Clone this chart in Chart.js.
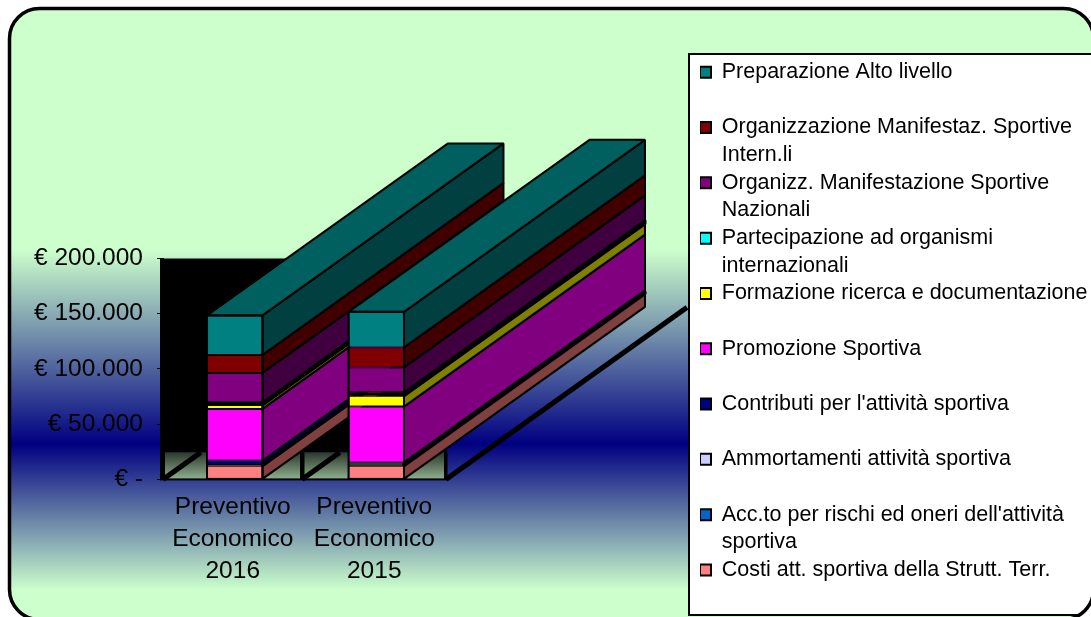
<!DOCTYPE html>
<html><head><meta charset="utf-8">
<style>html,body{margin:0;padding:0;background:#fff}canvas{display:block}</style>
<script src="https://cdn.jsdelivr.net/npm/chart.js@4"></script>
</head><body>
<canvas id="c" width="1091" height="617"></canvas>
<script>
const categories = [['Preventivo','Economico','2016'],['Preventivo','Economico','2015']];
const costi = [12400,12400];
const accantonamenti = [300,1000];
const ammortamenti = [300,1000];
const contributi = [4100,1000];
const promozione = [46700,50500];
const formazione = [3600,9900];
const partecipazione = [2400,3000];
const nazionali = [26600,22600];
const internazionali = [16300,18100];
const altoLivello = [35800,32200];
const yTicks = {0:'€ -',50000:'€ 50.000',100000:'€ 100.000',150000:'€ 150.000',200000:'€ 200.000'};

const series = [
 {lines:['Costi att. sportiva della Strutt. Terr.',''],data:costi,color:[255,128,128],bw:1},
 {lines:["Acc.to per rischi ed oneri dell'attività",'sportiva'],data:accantonamenti,color:[0,102,204],bw:2},
 {lines:['Ammortamenti attività sportiva',''],data:ammortamenti,color:[204,204,255],bw:2},
 {lines:["Contributi per l'attività sportiva",''],data:contributi,color:[0,0,128],bw:1},
 {lines:['Promozione Sportiva',''],data:promozione,color:[255,0,255],bw:1},
 {lines:['Formazione ricerca e documentazione',''],data:formazione,color:[255,255,0],bw:1},
 {lines:['Partecipazione ad organismi','internazionali'],data:partecipazione,color:[0,255,255],bw:2},
 {lines:['Organizz. Manifestazione Sportive','Nazionali'],data:nazionali,color:[128,0,128],bw:1},
 {lines:['Organizzazione Manifestaz. Sportive','Intern.li'],data:internazionali,color:[128,0,0],bw:1},
 {lines:['Preparazione Alto livello',''],data:altoLivello,color:[0,128,128],bw:1}
];
const rgb = (c,k=1)=>`rgb(${Math.round(c[0]*k)},${Math.round(c[1]*k)},${Math.round(c[2]*k)})`;
const FONT = '"Liberation Sans", Arial, sans-serif';
const DX = 241, DY = -172;

const scene = {
 id:'scene',
 beforeDraw(chart){
  const ctx = chart.ctx, W = chart.width;
  ctx.save();
  ctx.fillStyle='#fff'; ctx.fillRect(0,0,W,chart.height);
  const path = ()=>{ctx.beginPath();ctx.roundRect(9.5,8.5,1084,611,30);};
  const g = ctx.createLinearGradient(0,0,0,617);
  const s = y=>y/617;
  g.addColorStop(0,'#CCFFCC'); g.addColorStop(s(250),'#CCFFCC');
  g.addColorStop(s(444),'#000080'); g.addColorStop(s(590),'#CCFFCC'); g.addColorStop(1,'#CCFFCC');
  path(); ctx.fillStyle=g; ctx.fill();
  ctx.save(); path(); ctx.clip();
  ctx.fillStyle='#fff'; ctx.fillRect(689,54,420,561);
  ctx.strokeStyle='#000'; ctx.lineWidth=2; ctx.strokeRect(689,54,420,561);
  ctx.restore();
  path(); ctx.strokeStyle='#000'; ctx.lineWidth=3.5; ctx.stroke();
  ctx.restore();
 },
 afterLayout(chart){
  const lg = chart.legend;
  lg.maxWidth = 2000; lg.maxHeight = 2000; lg.fit();
  lg.left = 700; lg.right = 1091; lg.top = 61.5; lg.bottom = 617;
 },
 beforeDatasetsDraw(chart){
  const ctx = chart.ctx, y = chart.scales.y;
  const y0 = y.getPixelForValue(0), yT = y.getPixelForValue(200000);
  const L = chart.chartArea.left, R = chart.chartArea.right;
  ctx.save();
  ctx.fillStyle='#000'; ctx.fillRect(L-4,yT,R-L+4,y0-27-yT);
  const fg = ctx.createLinearGradient(0,y0-27,0,y0);
  fg.addColorStop(0,'#2c382c'); fg.addColorStop(1,'#8fb08f');
  ctx.fillStyle=fg; ctx.fillRect(L,y0-27,R-L-2,27);
  ctx.fillStyle='#000';
  ctx.fillRect(L-4,y0-27,5,27);
  ctx.fillRect(300,y0-27,4.5,27);
  ctx.fillRect(R-3,y0-27,3.5,27);
  ctx.fillRect(L-4,y0-1,R-L+4,2);
  ctx.strokeStyle='#000'; ctx.lineCap='butt'; ctx.lineWidth=5;
  [L-1,302].forEach(x=>{ctx.beginPath();ctx.moveTo(x,y0);ctx.lineTo(x+27*DX/-DY,y0-27);ctx.stroke();});
  ctx.beginPath();ctx.moveTo(R-1,y0);ctx.lineTo(R-1+241,y0-241*(-DY/DX));ctx.stroke();
  for(let j=0;j<categories.length;j++){
   ctx.lineJoin='bevel';
   chart.data.datasets.forEach((ds,i)=>{
    const b = chart.getDatasetMeta(i).data[j], x=b.x+b.width/2;
    ctx.lineWidth=series[i].bw>1?3:2;
    ctx.beginPath();ctx.moveTo(x,b.y);ctx.lineTo(x+DX,b.y+DY);ctx.lineTo(x+DX,b.base+DY);ctx.lineTo(x,b.base);ctx.closePath();
    ctx.fillStyle=rgb(series[i].color,0.5);ctx.fill();ctx.stroke();
   });
   ctx.lineWidth=2;
   const last = chart.data.datasets.length-1;
   const b = chart.getDatasetMeta(last).data[j], xl=b.x-b.width/2, xr=b.x+b.width/2;
   ctx.beginPath();ctx.moveTo(xl,b.y);ctx.lineTo(xl+DX,b.y+DY);ctx.lineTo(xr+DX,b.y+DY);ctx.lineTo(xr,b.y);ctx.closePath();
   ctx.fillStyle=rgb(series[last].color,0.75);ctx.fill();ctx.stroke();
  }
  ctx.restore();
 },
 afterDatasetsDraw(chart){
  const ctx = chart.ctx, last = chart.data.datasets.length-1;
  ctx.save();ctx.strokeStyle='#000';ctx.lineWidth=2;
  for(let j=0;j<categories.length;j++){
   const t = chart.getDatasetMeta(last).data[j], b0 = chart.getDatasetMeta(0).data[j];
   ctx.strokeRect(t.x-t.width/2,t.y,t.width,b0.base-t.y);
  }
  ctx.restore();
 }
};

new Chart(document.getElementById('c'),{
 type:'bar',
 data:{labels:categories,datasets:series.map(s=>({
  label:s.lines.join(' ').trim(),data:s.data,backgroundColor:rgb(s.color),
  borderColor:'#000',borderWidth:s.bw,borderSkipped:false,inflateAmount:0,
  barPercentage:1,categoryPercentage:0.392
 }))},
 plugins:[scene],
 options:{
  responsive:false,animation:false,devicePixelRatio:1,
  layout:{padding:{left:0,right:644,top:258.5,bottom:0}},
  scales:{
   x:{stacked:true,
    grid:{display:false},border:{display:false},
    afterFit(s){s.height=137.6;},
    ticks:{color:'#000',autoSkip:false,maxRotation:0,minRotation:0,padding:4,labelOffset:-2,
     font:{family:FONT,size:24.5,lineHeight:'32px'}}},
   y:{stacked:true,min:0,max:200000,
    grid:{drawOnChartArea:false,tickLength:7,tickColor:'#000',tickWidth:1},border:{display:false},
    afterFit(s){s.width=164;},
    ticks:{stepSize:50000,color:'#000',padding:14,
     callback:v=>yTicks[v],
     font:{family:FONT,size:24.5}}}
  },
  plugins:{
   tooltip:{enabled:false},
   legend:{position:'chartArea',align:'start',
    labels:{color:'#000',boxWidth:11,boxHeight:11,padding:0,
     font:{family:FONT,size:21.5,lineHeight:'27.65px'},
     generateLabels:()=>series.map((s,i)=>({text:s.lines,fillStyle:rgb(s.color),strokeStyle:'#000',lineWidth:2,hidden:false,datasetIndex:i})).reverse()
    }}
  }
 }
});
</script>
</body></html>
